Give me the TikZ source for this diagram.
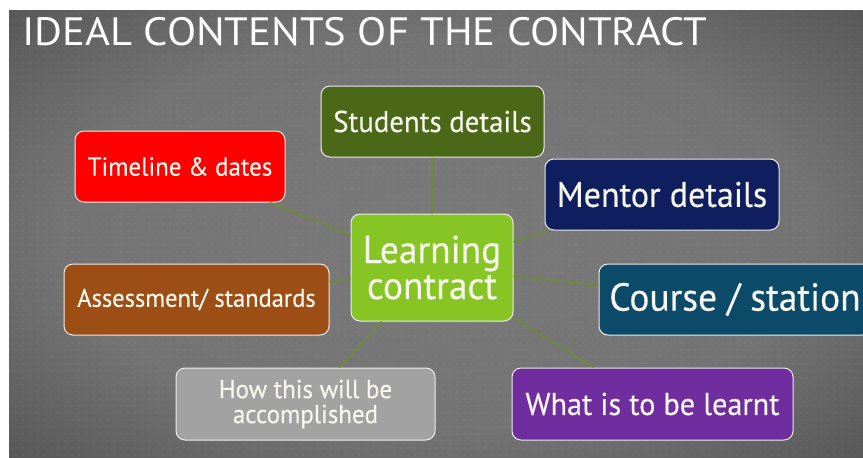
\documentclass[tikz,border=0pt]{standalone}
\usepackage{fontspec}
\setmainfont[FakeStretch=0.96,FakeBold=0.4]{PT Sans}
\newfontfamily\titlefont[FakeStretch=1.08]{PT Sans}
\usetikzlibrary{patterns.meta}

\definecolor{slidedark}{HTML}{3A3A3A}
\definecolor{slidemid}{HTML}{7A7A7A}
\definecolor{linkgreen}{HTML}{6E8C32}
\definecolor{textwhite}{HTML}{F6F6EC}
\definecolor{lcgreen}{HTML}{86C524}
\definecolor{sdgreen}{HTML}{4B6818}
\definecolor{tlred}{HTML}{FF0000}
\definecolor{mdnavy}{HTML}{0E1E5E}
\definecolor{csteal}{HTML}{0C4A6A}
\definecolor{asbrown}{HTML}{9C4E14}
\definecolor{hwgray}{HTML}{A2A2A2}
\definecolor{wlpurple}{HTML}{6F2DA0}

\pgfdeclareradialshading{slideglow}{\pgfpoint{0bp}{0bp}}{color(0bp)=(slidemid); color(22bp)=(slidemid!90!slidedark); color(50bp)=(slidedark); color(80bp)=(slidedark)}

\tikzdeclarepattern{
  name=slidedots,
  type=uncolored,
  bounding box={(0,0) and (6.5pt,6.5pt)},
  tile size={(6.5pt,6.5pt)},
  code={\fill (3.25pt,3.25pt) circle (0.8pt);}
}

\begin{document}
\begin{tikzpicture}[x=1pt,y=-1pt,
  box/.style={draw=white!85!gray, line width=1pt, rounded corners=9pt, text=textwhite,
    align=center, inner sep=0pt, minimum height=71pt},
  link/.style={draw=linkgreen, line width=1.5pt}]
\useasboundingbox (0,0) rectangle (863,458);
\fill[white] (0,0) rectangle (863,458);
\clip (9,10) rectangle (863,458);
\shade[shading=slideglow] (9,10) rectangle (863,458);
\fill[pattern=slidedots, pattern color=white, fill opacity=0.1] (9,10) rectangle (863,458);

\node[anchor=base west, text=white, inner sep=0pt, font=\titlefont\fontsize{39.5}{40}\selectfont] (title) at (22,45) {IDEAL CONTENTS OF THE CONTRACT};

\node[box, fill=lcgreen, minimum width=162pt, minimum height=107pt, font=\fontsize{39}{36}\selectfont] (lc) at (432,267.5) {Learning\\contract};
\node[box, fill=sdgreen, minimum width=223pt, font=\fontsize{30}{30}\selectfont] (sd) at (432.5,121.5) {Students details};
\node[box, fill=tlred, minimum width=210pt, font=\fontsize{26}{26}\selectfont] (tl) at (180,166.5) {Timeline \& dates};
\node[box, fill=mdnavy, minimum width=234pt, font=\fontsize{35.5}{35}\selectfont] (md) at (662,194.5) {Mentor details};
\node[box, fill=csteal, minimum width=272pt, font=\fontsize{39}{39}\selectfont] (cs) at (735,299.5) {Course / station};
\node[box, fill=asbrown, minimum width=265pt, font=\fontsize{25.5}{25}\selectfont] (as) at (196.5,299.5) {Assessment/ standards};
\node[box, fill=hwgray, minimum width=259pt, minimum height=72pt, font=\fontsize{26}{25}\selectfont] (hw) at (305.5,404) {How this will be\\accomplished};
\node[box, fill=wlpurple, minimum width=281pt, minimum height=72pt, font=\fontsize{31.5}{31}\selectfont] (wl) at (652.5,404) {What is to be learnt};

% spokes from the centre box
\foreach \n in {sd,tl,md,cs,as,hw,wl}
  \draw[link] (lc) -- (\n);
\end{tikzpicture}
\end{document}
